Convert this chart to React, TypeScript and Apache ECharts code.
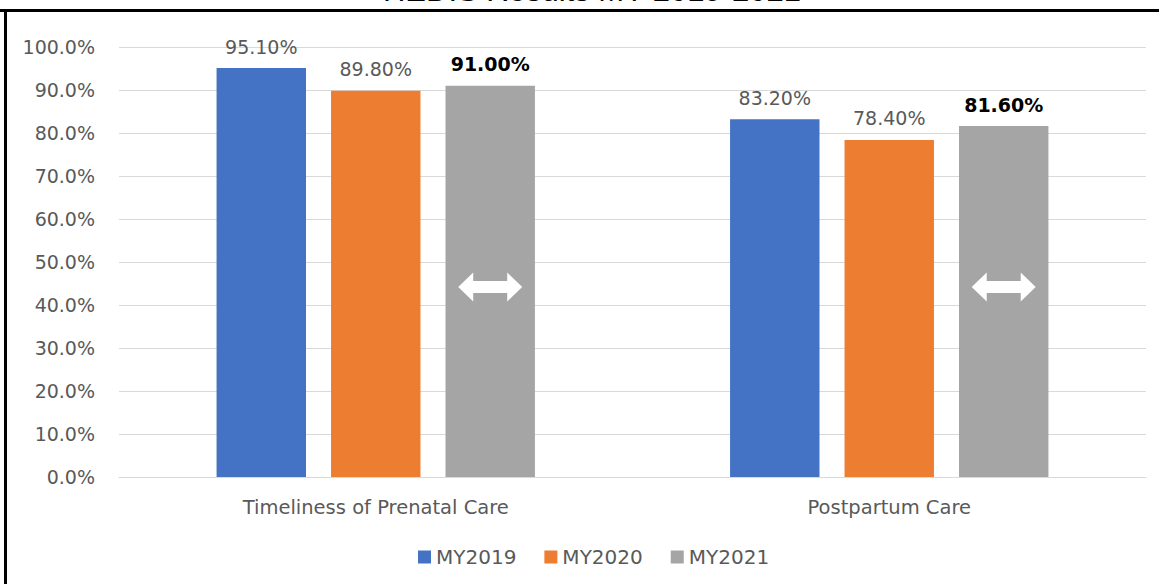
import React, { useEffect, useRef } from "react";
import * as echarts from "echarts";

const categories = ["Timeliness of Prenatal Care", "Postpartum Care"];
const seriesNames = ["MY2019", "MY2020", "MY2021"];
const my2019 = [95.1, 83.2];
const my2020 = [89.8, 78.4];
const my2021 = [91.0, 81.6];
const colors = ["#4472C4", "#ED7D31", "#A5A5A5"];
const yTicks = { min: 0, max: 100, interval: 10 };
// level (in %) at which the "no change" arrow sits on each MY2021 bar
const arrowLevel = [44.2, 44.2];
const titleText = "HEDIS Results MY 2019-2021";

const FONT = "DejaVu Sans";
const BAR_CATEGORY_GAP = 0.38;
const BAR_GAP = 0.28;
const ARROW_W = 64;
const ARROW_H = 29;
const ARROW_PATH =
  "M0 14.5 L15 0 L15 8.5 L49 8.5 L49 0 L64 14.5 L49 29 L49 20.5 L15 20.5 L15 29 Z";

export default function App() {
  const ref = useRef<HTMLDivElement>(null);

  useEffect(() => {
    if (!ref.current) return;
    const chart = echarts.init(ref.current, null, { renderer: "svg" });

    const valueLabel = (bold: boolean) => ({
      show: true,
      position: "top",
      distance: 12,
      fontFamily: FONT,
      fontSize: 19,
      fontWeight: bold ? "bold" : "normal",
      color: bold ? "#000000" : "#595959",
      formatter: (p: any) => Number(p.value).toFixed(2) + "%",
    });

    const seriesData = [my2019, my2020, my2021];

    chart.setOption({
      animation: false,
      backgroundColor: "#ffffff",
      color: colors,
      grid: { left: 119, right: 13, top: 47, bottom: 107, containLabel: false },
      legend: {
        data: seriesNames,
        bottom: 12,
        left: 413,
        icon: "rect",
        itemWidth: 13,
        itemHeight: 13,
        itemGap: 28,
        textStyle: { fontFamily: FONT, fontSize: 20, color: "#595959" },
      },
      xAxis: {
        type: "category",
        data: categories,
        axisLine: { lineStyle: { color: "#D9D9D9", width: 1 } },
        axisTick: { show: false },
        axisLabel: { margin: 20, fontFamily: FONT, fontSize: 19.5, color: "#595959" },
      },
      yAxis: {
        type: "value",
        min: yTicks.min,
        max: yTicks.max,
        interval: yTicks.interval,
        axisLine: { show: false },
        axisTick: { show: false },
        splitLine: { lineStyle: { color: "#D9D9D9", width: 1 } },
        axisLabel: {
          margin: 24,
          fontFamily: FONT,
          fontSize: 19,
          color: "#595959",
          formatter: (v: number) => v.toFixed(1) + "%",
        },
      },
      series: [
        ...seriesNames.map((name, i) => ({
          name,
          type: "bar",
          data: seriesData[i],
          barGap: BAR_GAP * 100 + "%",
          barCategoryGap: BAR_CATEGORY_GAP * 100 + "%",
          itemStyle: { color: colors[i] },
          label: valueLabel(i === 2),
        })),
        {
          name: "arrows",
          type: "custom",
          silent: true,
          z: 5,
          data: arrowLevel.map((v, i) => [i, v]),
          renderItem: (params: any, api: any) => {
            const p = api.coord([api.value(0), api.value(1)]);
            const band = api.size([1, 0])[0];
            const barW = (band * (1 - BAR_CATEGORY_GAP)) / (3 + 2 * BAR_GAP);
            const offset = barW * (1 + BAR_GAP);
            return {
              type: "path",
              shape: {
                pathData: ARROW_PATH,
                x: p[0] + offset - ARROW_W / 2,
                y: p[1] - ARROW_H / 2,
                width: ARROW_W,
                height: ARROW_H,
              },
              style: { fill: "#ffffff" },
            };
          },
        },
      ],
      graphic: [
        {
          type: "text",
          x: 592,
          y: 6,
          style: {
            text: titleText,
            fontFamily: "Liberation Sans",
            fontSize: 31,
            fill: "#000000",
            align: "center",
            verticalAlign: "bottom",
          },
        },
        {
          type: "line",
          shape: { x1: 0, y1: 10.5, x2: 1159, y2: 10.5 },
          style: { stroke: "#000000", lineWidth: 3 },
        },
        {
          type: "line",
          shape: { x1: 5.5, y1: 9, x2: 5.5, y2: 584 },
          style: { stroke: "#000000", lineWidth: 3 },
        },
      ],
    });

    return () => chart.dispose();
  }, []);

  return (
    <div
      style={{
        position: "absolute",
        left: 0,
        top: 0,
        width: 1159,
        height: 584,
        background: "#ffffff",
      }}
    >
      <div ref={ref} style={{ width: 1159, height: 584 }} />
    </div>
  );
}
